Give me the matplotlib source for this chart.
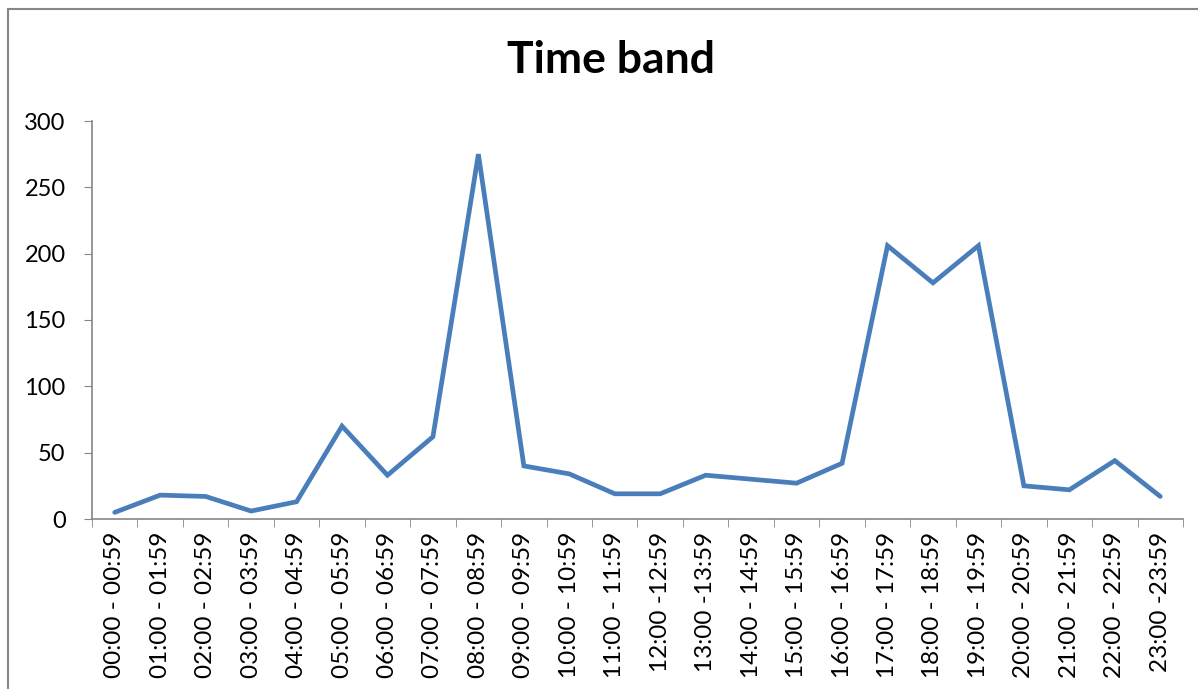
import numpy as np
import matplotlib.pyplot as plt
from matplotlib.patches import Rectangle

bands = ['00:00 - 00:59', '01:00 - 01:59', '02:00 - 02:59', '03:00 - 03:59',
         '04:00 - 04:59', '05:00 - 05:59', '06:00 - 06:59', '07:00 - 07:59',
         '08:00 - 08:59', '09:00 - 09:59', '10:00 - 10:59', '11:00 - 11:59',
         '12:00 -12:59', '13:00 -13:59', '14:00 - 14:59', '15:00 - 15:59',
         '16:00 - 16:59', '17:00 - 17:59', '18:00 - 18:59', '19:00 - 19:59',
         '20:00 - 20:59', '21:00 - 21:59', '22:00 - 22:59', '23:00 -23:59']
counts = [5, 18, 17, 6, 13, 70, 33, 62, 275, 40, 34, 19,
          19, 33, 30, 27, 42, 206, 178, 206, 25, 22, 44, 17]

plt.rcParams['font.family'] = ['Lato', 'DejaVu Sans']

fig = plt.figure(figsize=(11.98, 6.89), dpi=100)
W, H = 1198, 689
ax = fig.add_axes([92 / W, 1 - 519 / H, (1183 - 92) / W, (519 - 121) / H])

x = np.arange(len(counts))
ax.plot(x, counts, color='#4A7EBB', lw=3.4, solid_joinstyle='miter',
        solid_capstyle='round')

ax.set_xlim(-0.5, len(counts) - 0.5)
ax.set_ylim(0, 300)
ax.set_yticks(range(0, 301, 50))
ax.tick_params(axis='y', labelsize=17, length=6, color='#868686', pad=13)

# category boundaries get the tick marks, labels sit in the middle
ax.set_xticks(np.arange(-0.5, len(counts)), minor=True)
ax.set_xticks(x)
ax.set_xticklabels(bands, rotation=90, fontsize=17.5)
ax.tick_params(axis='x', which='major', length=0, pad=9)
ax.tick_params(axis='x', which='minor', length=6, color='#868686')

for s in ['top', 'right']:
    ax.spines[s].set_visible(False)
for s in ['left', 'bottom']:
    ax.spines[s].set_color('#868686')
    ax.spines[s].set_linewidth(1.2)

fig.text(611 / W, 1 - 60 / H, 'Time band', ha='center', va='center',
         fontsize=32, fontweight='bold')

# chart frame (runs off the right/bottom edge)
fig.patches.append(Rectangle((8 / W, -0.05), 1.2, 1 - 9 / H + 0.05,
                             transform=fig.transFigure, fill=False,
                             edgecolor='#868686', lw=1.5))

fig.savefig('out.png', dpi=100)
